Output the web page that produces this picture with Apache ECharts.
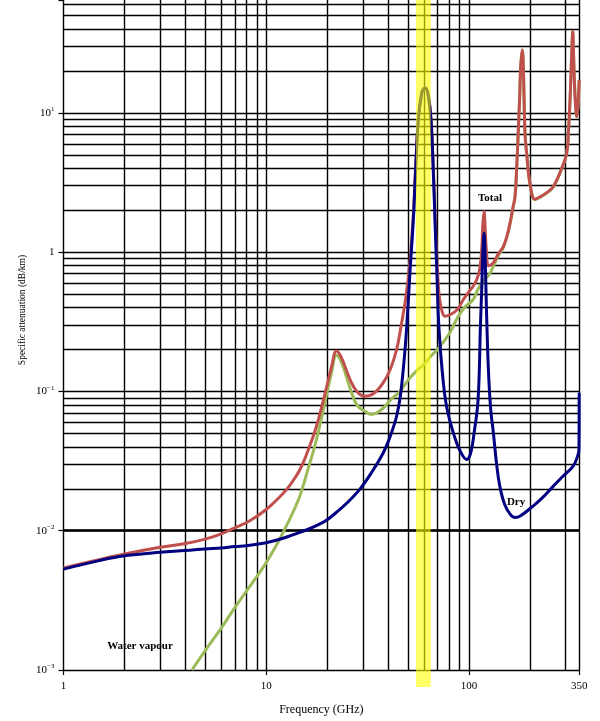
<!DOCTYPE html>
<html><head><meta charset="utf-8">
<script src="https://cdn.jsdelivr.net/npm/echarts@6/dist/echarts.min.js"></script>
<style>html,body{margin:0;padding:0;background:#fff}#c{width:600px;height:721px}</style>
</head><body><div id="c"></div><script>
// ---- data (frequency GHz, specific attenuation dB/km) ----
const dryFreq = [1,1.5,2,3,4,5,6,7,8,9,10,12,14,16,18,20,22,25,29,33,37.8,41,44,46,48.4,50,51.2,53.2,54.6,56.3,58.5,60,61.2,63.1,65,66.7,68,69.4,71.2,74.8,78,83.7,90,97.5,102,106,111,114,115.7,117,118.75,120.5,122,124.6,128,132,137,142,150,160,168.8,180,207.9,230,260.9,290,327,345,349,350];
const dryVal  = [0.0053,0.0061,0.0066,0.0070,0.0072,0.0074,0.0075,0.0077,0.0078,0.0080,0.0082,0.0088,0.0095,0.0102,0.0110,0.0120,0.0134,0.0158,0.0199,0.026,0.0363,0.048,0.0666,0.095,0.2,0.4,0.72,1.71,3.9,8.9,13.8,14.9,15.0,13.1,8.9,3.9,1.71,0.75,0.28,0.115,0.075,0.0506,0.038,0.0325,0.036,0.05,0.0877,0.3,0.55,0.95,1.37,0.8,0.4,0.15,0.075,0.0506,0.03,0.0209,0.0155,0.0131,0.01243,0.0128,0.0151,0.0172,0.0209,0.0245,0.0291,0.035,0.038,0.098];
const totFreq = [1,1.5,2,3,4,5,6,7,8.3,10,12.1,13.3,14.7,16,17.7,19.9,21,22.2,23.5,25.9,28,30.7,34,37.8,41,44,46,49.1,51.2,53.2,54.6,56.3,58.5,60,61.2,63.1,65,66.7,68,69.4,71.2,73,76.2,82,88,93.9,100,105,109.3,113,115.7,117,118.75,120.5,122,125,132,140,148,155,160,165,168.8,172,175.3,178,180.1,183.3,185.5,189.1,193,200,211.8,225,240,260.9,285,303.7,310,315.4,320,323,325.2,327.5,330,334,338,340.3,344,347,350];
const totVal  = [0.0054,0.0062,0.0068,0.0076,0.0081,0.0087,0.0095,0.0105,0.0118,0.0142,0.0185,0.0219,0.0276,0.037,0.0562,0.109,0.15,0.195,0.175,0.122,0.1,0.0925,0.097,0.1155,0.145,0.2,0.28,0.5,0.87,1.9,4.05,9.05,13.95,15.05,15.15,13.3,9.1,4.1,1.9,0.95,0.5,0.4,0.347,0.36,0.39,0.457,0.52,0.57,0.635,0.75,1.05,1.55,1.96,1.4,1.02,0.8,0.84,0.98,1.1,1.35,1.65,2.1,2.5,4,7.5,13,21.5,28.3,21.5,7.15,5,3.13,2.4,2.5,2.65,2.96,3.9,5.14,7.5,12.4,22,32,38.3,30,20,13,10,9.4,10.5,13,17.2];
const wvFreq  = [4.3,5,6,7,8,9,10,11.4,12.1,13.3,14.7,16,17.7,19.9,21,22.2,23.5,25.9,28,30.7,33.2,37.8,41,45.7,50,55,60,65,70,80.7,87,95,105,110,118.75,125,132,140,148,155,160,165,168.8,172,175.3,178,180.1,183.3,185.5,189.1,193,200,211.8,225,240,260.9,285,303.7,310,315.4,320,323,325.2,327.5,330,334,338,340.3,344,347,350];
const wvVal   = [0.001,0.00138,0.002,0.0028,0.0037,0.0047,0.0059,0.0082,0.0097,0.0128,0.018,0.027,0.045,0.096,0.137,0.182,0.162,0.106,0.08,0.072,0.0684,0.076,0.087,0.1,0.12,0.14,0.156,0.18,0.2,0.265,0.33,0.4,0.457,0.53,0.63,0.68,0.79,0.95,1.08,1.33,1.63,2.08,2.48,3.98,7.48,13,21.5,28.3,21.5,7.13,4.98,3.11,2.38,2.48,2.63,2.94,3.87,5.11,7.47,12.4,22,32,38.3,30,20,13,9.97,9.37,10.47,12.96,17.1];

// ---- axes / grid ----
const xTickLabels = [1, 10, 100, 350];
const gridX = [2,3,4,5,6,7,8,9,10,20,30,40,50,60,70,80,90,100,200,300,350];
const gridY = [0.002,0.003,0.004,0.005,0.006,0.007,0.008,0.009,0.01,0.02,0.03,0.04,0.05,0.06,0.07,0.08,0.09,0.1,0.2,0.3,0.4,0.5,0.6,0.7,0.8,0.9,1,2,3,4,5,6,7,8,9,10,20,30,40,50,60];
const bandX = [54.8, 64.8];
const bandY = [0.000755, 64.6];
const notes = [
  {name: 'Total', coord: [127, 2.46]},
  {name: 'Dry', coord: [170.8, 0.016]},
  {name: 'Water vapour', coord: [2.385, 0.001486]}
];

const zip = (a, b) => a.map((v, i) => [v, b[i]]);
const serif = 'Liberation Serif';

const chart = echarts.init(document.getElementById('c'), null, {renderer: 'canvas'});
chart.setOption({
  animation: false,
  backgroundColor: '#fff',
  grid: {left: 63.5, right: 20.8, top: 0, bottom: 50},
  xAxis: {
    type: 'log', logBase: 10, min: 1, max: 350,
    axisLine: {show: true, lineStyle: {color: '#000', width: 1.4}},
    axisTick: {show: true, length: 5, lineStyle: {color: '#000', width: 1.2}},
    splitLine: {show: false},
    axisLabel: {
      color: '#000', fontFamily: serif, fontSize: 11, margin: 11,
      formatter: v => { const t = xTickLabels.find(t => Math.abs(v - t) / t < 1e-6); return t ? String(t) : ''; }
    },
    name: 'Frequency (GHz)', nameLocation: 'middle', nameGap: 34,
    nameTextStyle: {color: '#000', fontFamily: serif, fontSize: 12}
  },
  yAxis: {
    type: 'log', logBase: 10, min: 0.001, max: 64.6,
    axisLine: {show: true, lineStyle: {color: '#000', width: 1.4}},
    axisTick: {show: true, length: 5, lineStyle: {color: '#000', width: 1.2}},
    splitLine: {show: false},
    axisLabel: {
      color: '#000', fontFamily: serif, fontSize: 11, margin: 9,
      formatter: v => {
        const l = Math.log10(v), e = Math.round(l);
        if (Math.abs(l - e) > 1e-6) return '';
        if (e === 0) return '{b|1}';
        return '{b|10}{s|' + (e < 0 ? '\u2212' : '') + Math.abs(e) + '}';
      },
      rich: {
        b: {fontFamily: serif, fontSize: 11, color: '#000', lineHeight: 14},
        s: {fontFamily: serif, fontSize: 7, color: '#000', verticalAlign: 'top', lineHeight: 14}
      }
    }
  },
  graphic: [{
    type: 'text', x: 22, y: 310, rotation: Math.PI / 2,
    style: {text: 'Specific attenuation (dB/km)', fill: '#000', font: '9.5px "Liberation Serif"', align: 'center', verticalAlign: 'middle'}
  }],
  series: [
    {
      type: 'line', data: [], z: 1, silent: true,
      markLine: {
        z: 1, silent: true, symbol: ['none', 'none'], label: {show: false},
        lineStyle: {color: '#000', width: 1.4, type: 'solid'},
        emphasis: {disabled: true},
        data: gridX.map(v => ({xAxis: v})).concat(gridY.map(v => ({yAxis: v})))
      }
    },
    {name: 'Water vapour', type: 'line', z: 2, data: zip(wvFreq, wvVal), showSymbol: false, smooth: 0.4,
     lineStyle: {color: '#9bbb59', width: 3}, itemStyle: {color: '#9bbb59'}},
    {name: 'Total', type: 'line', z: 3, data: zip(totFreq, totVal), showSymbol: false, smooth: 0.4,
     lineStyle: {color: '#c0504d', width: 3}, itemStyle: {color: '#c0504d'}},
    {name: 'Dry', type: 'line', z: 4, data: zip(dryFreq, dryVal), showSymbol: false, smooth: 0.4,
     lineStyle: {color: '#000080', width: 3}, itemStyle: {color: '#000080'},
     markPoint: {
       z: 6, silent: true, symbol: 'rect', symbolSize: 1, itemStyle: {color: 'rgba(0,0,0,0)'},
       label: {show: true, position: 'inside', formatter: p => p.name, color: '#000', fontFamily: serif, fontSize: 11, fontWeight: 'bold'},
       data: notes
     }},
    {
      type: 'custom', z: 10, silent: true, clip: false,
      data: [[bandX[0], bandY[0], bandX[1], bandY[1]]],
      encode: {x: [0, 2], y: [1, 3]},
      renderItem: (params, api) => {
        const p0 = api.coord([api.value(0), api.value(3)]);
        const p1 = api.coord([api.value(2), api.value(1)]);
        return {type: 'rect', shape: {x: p0[0], y: p0[1], width: p1[0] - p0[0], height: p1[1] - p0[1]},
                style: {fill: 'rgba(255,255,0,0.6)'}};
      }
    }
  ]
});
</script></body></html>
